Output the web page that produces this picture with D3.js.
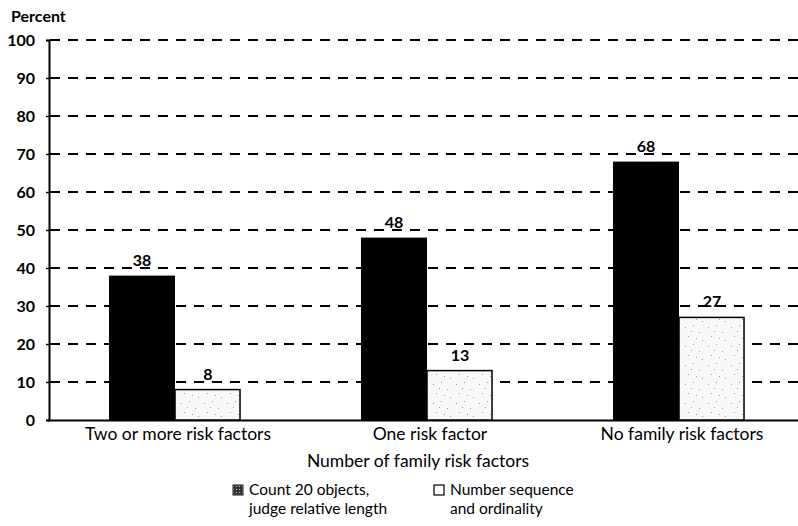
<!DOCTYPE html>
<html><head><meta charset="utf-8">
<script src="https://cdn.jsdelivr.net/npm/d3@7"></script>
<style>body{margin:0;background:#fff}svg{display:block}text{font-family:Lato,"Open Sans",sans-serif;fill:#000}</style>
</head><body>
<script>
const categories = ["Two or more risk factors", "One risk factor", "No family risk factors"];
const seriesNames = ["Count 20 objects, judge relative length", "Number sequence and ordinality"];
const countValues = [38, 48, 68];
const sequenceValues = [8, 13, 27];
const yTicks = [0, 10, 20, 30, 40, 50, 60, 70, 80, 90, 100];

const W = 798, H = 526;
const svg = d3.select("body").append("svg").attr("width", W).attr("height", H);
const defs = svg.append("defs");
const pat = defs.append("pattern").attr("id", "speck").attr("patternUnits", "userSpaceOnUse").attr("width", 23).attr("height", 19);
pat.append("rect").attr("width", 23).attr("height", 19).attr("fill", "#f8f8f8");
[[3,4],[11,2],[17,9],[6,13],[14,15],[20,17],[9,8]].forEach(p => pat.append("rect").attr("x", p[0]).attr("y", p[1]).attr("width", 1).attr("height", 1).attr("fill", "#999"));
const pat2 = defs.append("pattern").attr("id", "hatch").attr("patternUnits", "userSpaceOnUse").attr("width", 3).attr("height", 3);
pat2.append("rect").attr("width", 3).attr("height", 3).attr("fill", "#333");
pat2.append("rect").attr("width", 1).attr("height", 1).attr("fill", "#bbb");

const y = d3.scaleLinear().domain([0, 100]).range([420, 40]);
const x0 = d3.scaleBand().domain(categories).range([49, 805]).paddingInner(0.476).paddingOuter(0.238);
const x1 = d3.scaleBand().domain([0, 1]).range([0, x0.bandwidth()]);

// grid
svg.append("g").selectAll("line").data(yTicks.filter(d => d > 0)).join("line")
  .attr("x1", 50).attr("x2", W).attr("y1", d => y(d)).attr("y2", d => y(d))
  .attr("stroke", "#000").attr("stroke-width", 1.8).attr("stroke-dasharray", "10,8");

// y axis
const yAxis = svg.append("g").attr("transform", "translate(49,0)")
  .call(d3.axisLeft(y).tickValues(yTicks).tickSize(3).tickPadding(11));
yAxis.select(".domain").attr("stroke-width", 2);
yAxis.selectAll(".tick line").attr("stroke-width", 1.4);
yAxis.selectAll("text").attr("font-size", 16).attr("font-weight", 700).attr("font-family", "Lato");

// x axis line
svg.append("line").attr("x1", 48).attr("x2", W).attr("y1", 420.5).attr("y2", 420.5).attr("stroke", "#000").attr("stroke-width", 2);

const groups = svg.append("g").selectAll("g").data(categories).join("g")
  .attr("transform", d => `translate(${x0(d)},0)`);

groups.append("rect").attr("x", x1(0)).attr("width", x1.bandwidth())
  .attr("y", (d, i) => y(countValues[i])).attr("height", (d, i) => y(0) - y(countValues[i])).attr("fill", "#000");
groups.append("rect").attr("x", x1(1)).attr("width", x1.bandwidth() - 1)
  .attr("y", (d, i) => y(sequenceValues[i])).attr("height", (d, i) => y(0) - y(sequenceValues[i]))
  .attr("fill", "url(#speck)").attr("stroke", "#000").attr("stroke-width", 1.5);

groups.append("text").attr("x", x1(0) + x1.bandwidth() / 2).attr("y", (d, i) => y(countValues[i]) - 10)
  .attr("text-anchor", "middle").attr("font-size", 16).attr("font-weight", 700).text((d, i) => countValues[i]);
groups.append("text").attr("x", x1(1) + x1.bandwidth() / 2).attr("y", (d, i) => y(sequenceValues[i]) - 10)
  .attr("text-anchor", "middle").attr("font-size", 16).attr("font-weight", 700).text((d, i) => sequenceValues[i]);

groups.append("text").attr("x", x0.bandwidth() / 2 + 3).attr("y", 440)
  .attr("text-anchor", "middle").attr("font-size", 17.5).text(d => d);

svg.append("text").attr("x", 11).attr("y", 22).attr("font-size", 16).attr("font-weight", 700).text("Percent");
svg.append("text").attr("x", 418).attr("y", 467).attr("text-anchor", "middle").attr("font-size", 17.5).text("Number of family risk factors");

// legend
const legendLines = [["Count 20 objects,", "judge relative length"], ["Number sequence", "and ordinality"]];
const leg = svg.append("g").selectAll("g").data(seriesNames).join("g")
  .attr("transform", (d, i) => `translate(${i === 0 ? 233 : 434},495)`);
leg.append("rect").attr("x", 0).attr("y", -10).attr("width", 10).attr("height", 10)
  .attr("fill", (d, i) => i === 0 ? "url(#hatch)" : "#fff").attr("stroke", (d, i) => i === 0 ? "#444" : "#000").attr("stroke-width", 1.2);
leg.each(function(d, i) {
  const g = d3.select(this);
  legendLines[i].forEach((ln, j) => g.append("text").attr("x", 16).attr("y", j * 18.5).attr("font-size", 15.5).text(ln));
});
</script>
</body></html>
